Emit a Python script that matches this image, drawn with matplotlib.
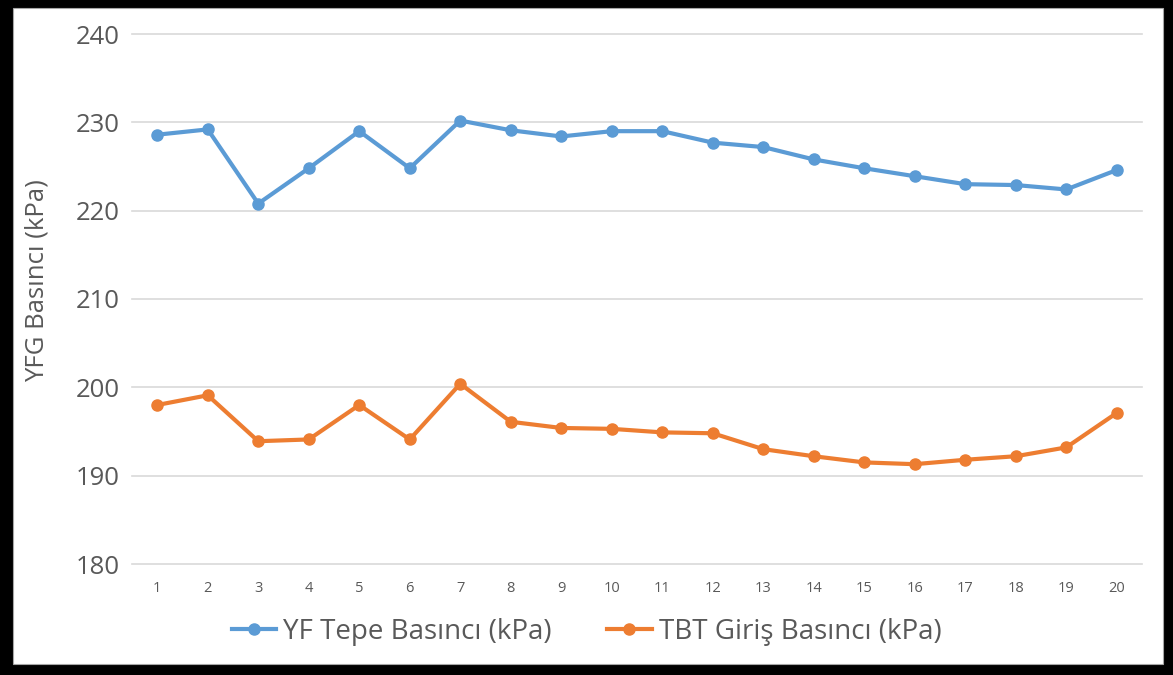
import matplotlib
matplotlib.use("Agg")
import matplotlib.pyplot as plt
from matplotlib.patches import Rectangle

categories = [str(i) for i in range(1, 21)]
yf_tepe = [228.6, 229.2, 220.8, 224.8, 229.0, 224.8, 230.2, 229.1, 228.4, 229.0,
           229.0, 227.7, 227.2, 225.8, 224.8, 223.9, 223.0, 222.9, 222.4, 224.6]
tbt_giris = [198.0, 199.1, 193.9, 194.1, 198.0, 194.1, 200.4, 196.1, 195.4, 195.3,
             194.9, 194.8, 193.0, 192.2, 191.5, 191.3, 191.8, 192.2, 193.2, 197.1]
y_ticks = [180, 190, 200, 210, 220, 230, 240]

plt.rcParams['font.family'] = ['Open Sans', 'DejaVu Sans']
W, H = 1173, 675
fig = plt.figure(figsize=(W / 100, H / 100), dpi=100, facecolor='black')
fig.patches.append(Rectangle((13 / W, 1 - 664 / H), (1163 - 13) / W, (664 - 8) / H,
                             transform=fig.transFigure, facecolor='white',
                             edgecolor='#A6A6A6', linewidth=0.8, zorder=-5))

ax = fig.add_axes([132 / W, 1 - 564 / H, (1142 - 132) / W, (564 - 34) / H])
ax.set_zorder(1)
ax.set_facecolor('none')
x = list(range(len(categories)))
ax.plot(x, yf_tepe, color='#5B9BD5', lw=3.0, marker='o', ms=8,
        label='YF Tepe Basıncı (kPa)', zorder=3)
ax.plot(x, tbt_giris, color='#ED7D31', lw=3.0, marker='o', ms=8,
        label='TBT Giriş Basıncı (kPa)', zorder=3)

ax.set_xlim(-0.5, len(categories) - 0.5)
ax.set_ylim(180, 240)
ax.set_yticks(y_ticks)
ax.set_xticks(x)
ax.set_xticklabels(categories)
ax.grid(axis='y', color='#D9D9D9', lw=1.2)
for gl in ax.get_ygridlines():
    gl.set_clip_on(False)
ax.set_axisbelow(True)
for s in ax.spines.values():
    s.set_visible(False)
ax.tick_params(axis='both', length=0, colors='#595959')
ax.tick_params(axis='y', labelsize=18.5, pad=9)
ax.tick_params(axis='x', labelsize=10.5, pad=12)
ax.set_ylabel('YFG Basıncı (kPa)', fontsize=18.5, color='#595959')
ax.yaxis.set_label_coords(-82 / (1142 - 132), 0.535)

leg = fig.legend(loc='center', bbox_to_anchor=(0.5, 1 - 632 / H), ncol=2, frameon=False,
                 fontsize=20, handlelength=1.6, columnspacing=2.0, handletextpad=0.25,
                 labelcolor='#595959')
leg.set_zorder(2)

fig.savefig('out.png', dpi=100, facecolor='black')
